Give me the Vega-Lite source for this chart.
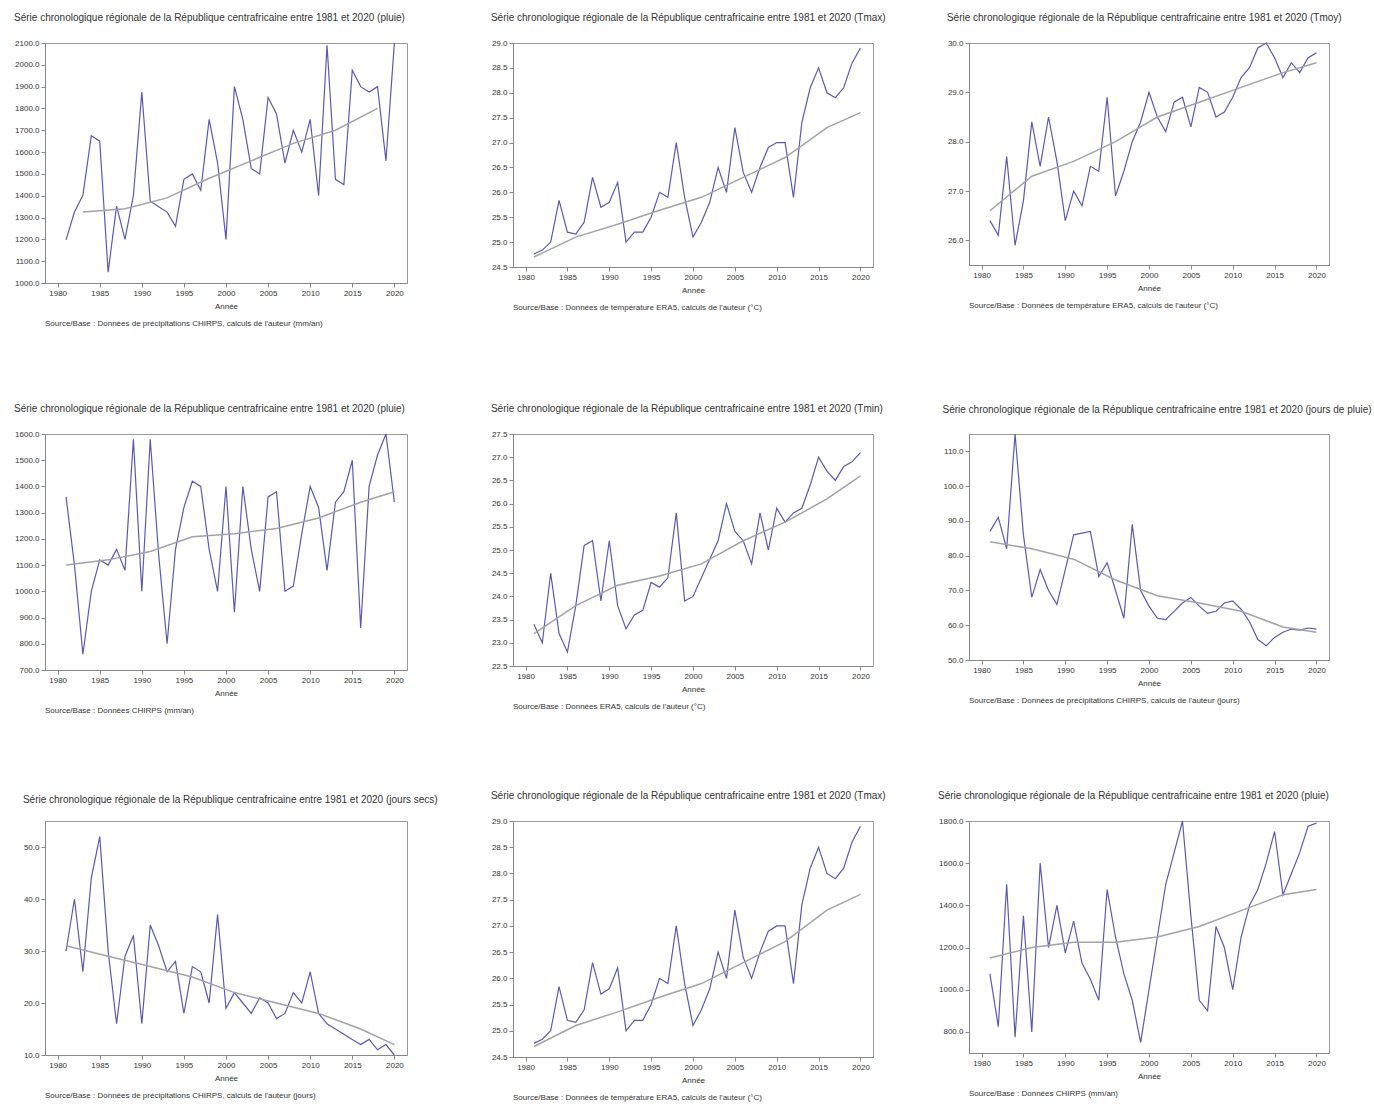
{
  "$schema": "https://vega.github.io/schema/vega-lite/v6.json",
  "padding": {"left": 14, "top": 12, "right": 4, "bottom": 4},
  "background": "white",
  "config": {
    "font": "Liberation Sans",
    "view": {"stroke": "#9a9a9a", "strokeWidth": 1},
    "axis": {"grid": false, "labelFontSize": 8, "titleFontSize": 8, "titleFontWeight": "normal", "domainColor": "#888", "tickColor": "#888", "labelColor": "#333", "titleColor": "#333", "tickSize": 4, "titlePadding": 5},
    "title": {"fontSize": 10, "fontWeight": "normal", "anchor": "start", "frame": "bounds", "color": "#333", "offset": 16},
    "concat": {"spacing": {"row": 74, "column": 52}}
  },
  "data": {"values": [
    {"r":"R1","a":1981,"v":1198,"s":"obs"},{"r":"R1","a":1982,"v":1325,"s":"obs"},{"r":"R1","a":1983,"v":1402,"s":"obs"},{"r":"R1","a":1984,"v":1675,"s":"obs"},{"r":"R1","a":1985,"v":1650,"s":"obs"},{"r":"R1","a":1986,"v":1050,"s":"obs"},{"r":"R1","a":1987,"v":1352,"s":"obs"},{"r":"R1","a":1988,"v":1200,"s":"obs"},{"r":"R1","a":1989,"v":1400,"s":"obs"},{"r":"R1","a":1990,"v":1875,"s":"obs"},
    {"r":"R1","a":1991,"v":1375,"s":"obs"},{"r":"R1","a":1992,"v":1350,"s":"obs"},{"r":"R1","a":1993,"v":1325,"s":"obs"},{"r":"R1","a":1994,"v":1260,"s":"obs"},{"r":"R1","a":1995,"v":1475,"s":"obs"},{"r":"R1","a":1996,"v":1500,"s":"obs"},{"r":"R1","a":1997,"v":1425,"s":"obs"},{"r":"R1","a":1998,"v":1750,"s":"obs"},{"r":"R1","a":1999,"v":1550,"s":"obs"},{"r":"R1","a":2000,"v":1200,"s":"obs"},
    {"r":"R1","a":2001,"v":1900,"s":"obs"},{"r":"R1","a":2002,"v":1750,"s":"obs"},{"r":"R1","a":2003,"v":1525,"s":"obs"},{"r":"R1","a":2004,"v":1500,"s":"obs"},{"r":"R1","a":2005,"v":1850,"s":"obs"},{"r":"R1","a":2006,"v":1775,"s":"obs"},{"r":"R1","a":2007,"v":1550,"s":"obs"},{"r":"R1","a":2008,"v":1700,"s":"obs"},{"r":"R1","a":2009,"v":1600,"s":"obs"},{"r":"R1","a":2010,"v":1750,"s":"obs"},
    {"r":"R1","a":2011,"v":1400,"s":"obs"},{"r":"R1","a":2012,"v":2090,"s":"obs"},{"r":"R1","a":2013,"v":1475,"s":"obs"},{"r":"R1","a":2014,"v":1450,"s":"obs"},{"r":"R1","a":2015,"v":1975,"s":"obs"},{"r":"R1","a":2016,"v":1900,"s":"obs"},{"r":"R1","a":2017,"v":1875,"s":"obs"},{"r":"R1","a":2018,"v":1900,"s":"obs"},{"r":"R1","a":2019,"v":1560,"s":"obs"},{"r":"R1","a":2020,"v":2100,"s":"obs"},
    {"r":"R1","a":1983,"v":1325,"s":"tend"},{"r":"R1","a":1988,"v":1340,"s":"tend"},{"r":"R1","a":1993,"v":1390,"s":"tend"},{"r":"R1","a":1998,"v":1480,"s":"tend"},{"r":"R1","a":2003,"v":1560,"s":"tend"},{"r":"R1","a":2008,"v":1640,"s":"tend"},{"r":"R1","a":2013,"v":1700,"s":"tend"},{"r":"R1","a":2018,"v":1800,"s":"tend"},

    {"r":"R2","a":1981,"v":24.76,"s":"obs"},{"r":"R2","a":1982,"v":24.84,"s":"obs"},{"r":"R2","a":1983,"v":25.0,"s":"obs"},{"r":"R2","a":1984,"v":25.84,"s":"obs"},{"r":"R2","a":1985,"v":25.2,"s":"obs"},{"r":"R2","a":1986,"v":25.16,"s":"obs"},{"r":"R2","a":1987,"v":25.4,"s":"obs"},{"r":"R2","a":1988,"v":26.3,"s":"obs"},{"r":"R2","a":1989,"v":25.7,"s":"obs"},{"r":"R2","a":1990,"v":25.8,"s":"obs"},
    {"r":"R2","a":1991,"v":26.2,"s":"obs"},{"r":"R2","a":1992,"v":25.0,"s":"obs"},{"r":"R2","a":1993,"v":25.2,"s":"obs"},{"r":"R2","a":1994,"v":25.2,"s":"obs"},{"r":"R2","a":1995,"v":25.5,"s":"obs"},{"r":"R2","a":1996,"v":26.0,"s":"obs"},{"r":"R2","a":1997,"v":25.9,"s":"obs"},{"r":"R2","a":1998,"v":27.0,"s":"obs"},{"r":"R2","a":1999,"v":25.9,"s":"obs"},{"r":"R2","a":2000,"v":25.1,"s":"obs"},
    {"r":"R2","a":2001,"v":25.4,"s":"obs"},{"r":"R2","a":2002,"v":25.8,"s":"obs"},{"r":"R2","a":2003,"v":26.5,"s":"obs"},{"r":"R2","a":2004,"v":26.0,"s":"obs"},{"r":"R2","a":2005,"v":27.3,"s":"obs"},{"r":"R2","a":2006,"v":26.4,"s":"obs"},{"r":"R2","a":2007,"v":26.0,"s":"obs"},{"r":"R2","a":2008,"v":26.5,"s":"obs"},{"r":"R2","a":2009,"v":26.9,"s":"obs"},{"r":"R2","a":2010,"v":27.0,"s":"obs"},
    {"r":"R2","a":2011,"v":27.0,"s":"obs"},{"r":"R2","a":2012,"v":25.9,"s":"obs"},{"r":"R2","a":2013,"v":27.4,"s":"obs"},{"r":"R2","a":2014,"v":28.1,"s":"obs"},{"r":"R2","a":2015,"v":28.5,"s":"obs"},{"r":"R2","a":2016,"v":28.0,"s":"obs"},{"r":"R2","a":2017,"v":27.9,"s":"obs"},{"r":"R2","a":2018,"v":28.1,"s":"obs"},{"r":"R2","a":2019,"v":28.6,"s":"obs"},{"r":"R2","a":2020,"v":28.9,"s":"obs"},
    {"r":"R2","a":1981,"v":24.7,"s":"tend"},{"r":"R2","a":1986,"v":25.1,"s":"tend"},{"r":"R2","a":1991,"v":25.36,"s":"tend"},{"r":"R2","a":1996,"v":25.64,"s":"tend"},{"r":"R2","a":2001,"v":25.9,"s":"tend"},{"r":"R2","a":2006,"v":26.3,"s":"tend"},{"r":"R2","a":2011,"v":26.7,"s":"tend"},{"r":"R2","a":2016,"v":27.3,"s":"tend"},{"r":"R2","a":2020,"v":27.6,"s":"tend"},

    {"r":"R3","a":1981,"v":26.4,"s":"obs"},{"r":"R3","a":1982,"v":26.1,"s":"obs"},{"r":"R3","a":1983,"v":27.7,"s":"obs"},{"r":"R3","a":1984,"v":25.9,"s":"obs"},{"r":"R3","a":1985,"v":26.8,"s":"obs"},{"r":"R3","a":1986,"v":28.4,"s":"obs"},{"r":"R3","a":1987,"v":27.5,"s":"obs"},{"r":"R3","a":1988,"v":28.5,"s":"obs"},{"r":"R3","a":1989,"v":27.6,"s":"obs"},{"r":"R3","a":1990,"v":26.4,"s":"obs"},
    {"r":"R3","a":1991,"v":27.0,"s":"obs"},{"r":"R3","a":1992,"v":26.7,"s":"obs"},{"r":"R3","a":1993,"v":27.5,"s":"obs"},{"r":"R3","a":1994,"v":27.4,"s":"obs"},{"r":"R3","a":1995,"v":28.9,"s":"obs"},{"r":"R3","a":1996,"v":26.9,"s":"obs"},{"r":"R3","a":1997,"v":27.4,"s":"obs"},{"r":"R3","a":1998,"v":28.0,"s":"obs"},{"r":"R3","a":1999,"v":28.4,"s":"obs"},{"r":"R3","a":2000,"v":29.0,"s":"obs"},
    {"r":"R3","a":2001,"v":28.5,"s":"obs"},{"r":"R3","a":2002,"v":28.2,"s":"obs"},{"r":"R3","a":2003,"v":28.8,"s":"obs"},{"r":"R3","a":2004,"v":28.9,"s":"obs"},{"r":"R3","a":2005,"v":28.3,"s":"obs"},{"r":"R3","a":2006,"v":29.1,"s":"obs"},{"r":"R3","a":2007,"v":29.0,"s":"obs"},{"r":"R3","a":2008,"v":28.5,"s":"obs"},{"r":"R3","a":2009,"v":28.6,"s":"obs"},{"r":"R3","a":2010,"v":28.9,"s":"obs"},
    {"r":"R3","a":2011,"v":29.3,"s":"obs"},{"r":"R3","a":2012,"v":29.5,"s":"obs"},{"r":"R3","a":2013,"v":29.9,"s":"obs"},{"r":"R3","a":2014,"v":30.0,"s":"obs"},{"r":"R3","a":2015,"v":29.7,"s":"obs"},{"r":"R3","a":2016,"v":29.3,"s":"obs"},{"r":"R3","a":2017,"v":29.6,"s":"obs"},{"r":"R3","a":2018,"v":29.4,"s":"obs"},{"r":"R3","a":2019,"v":29.7,"s":"obs"},{"r":"R3","a":2020,"v":29.8,"s":"obs"},
    {"r":"R3","a":1981,"v":26.6,"s":"tend"},{"r":"R3","a":1986,"v":27.3,"s":"tend"},{"r":"R3","a":1991,"v":27.6,"s":"tend"},{"r":"R3","a":1996,"v":28.0,"s":"tend"},{"r":"R3","a":2001,"v":28.5,"s":"tend"},{"r":"R3","a":2006,"v":28.8,"s":"tend"},{"r":"R3","a":2011,"v":29.1,"s":"tend"},{"r":"R3","a":2016,"v":29.4,"s":"tend"},{"r":"R3","a":2020,"v":29.6,"s":"tend"},

    {"r":"R4","a":1981,"v":1360,"s":"obs"},{"r":"R4","a":1982,"v":1100,"s":"obs"},{"r":"R4","a":1983,"v":760,"s":"obs"},{"r":"R4","a":1984,"v":1000,"s":"obs"},{"r":"R4","a":1985,"v":1120,"s":"obs"},{"r":"R4","a":1986,"v":1100,"s":"obs"},{"r":"R4","a":1987,"v":1160,"s":"obs"},{"r":"R4","a":1988,"v":1080,"s":"obs"},{"r":"R4","a":1989,"v":1580,"s":"obs"},{"r":"R4","a":1990,"v":1000,"s":"obs"},
    {"r":"R4","a":1991,"v":1580,"s":"obs"},{"r":"R4","a":1992,"v":1140,"s":"obs"},{"r":"R4","a":1993,"v":800,"s":"obs"},{"r":"R4","a":1994,"v":1160,"s":"obs"},{"r":"R4","a":1995,"v":1320,"s":"obs"},{"r":"R4","a":1996,"v":1420,"s":"obs"},{"r":"R4","a":1997,"v":1400,"s":"obs"},{"r":"R4","a":1998,"v":1160,"s":"obs"},{"r":"R4","a":1999,"v":1000,"s":"obs"},{"r":"R4","a":2000,"v":1400,"s":"obs"},
    {"r":"R4","a":2001,"v":920,"s":"obs"},{"r":"R4","a":2002,"v":1400,"s":"obs"},{"r":"R4","a":2003,"v":1160,"s":"obs"},{"r":"R4","a":2004,"v":1000,"s":"obs"},{"r":"R4","a":2005,"v":1360,"s":"obs"},{"r":"R4","a":2006,"v":1380,"s":"obs"},{"r":"R4","a":2007,"v":1000,"s":"obs"},{"r":"R4","a":2008,"v":1020,"s":"obs"},{"r":"R4","a":2009,"v":1220,"s":"obs"},{"r":"R4","a":2010,"v":1400,"s":"obs"},
    {"r":"R4","a":2011,"v":1320,"s":"obs"},{"r":"R4","a":2012,"v":1080,"s":"obs"},{"r":"R4","a":2013,"v":1340,"s":"obs"},{"r":"R4","a":2014,"v":1380,"s":"obs"},{"r":"R4","a":2015,"v":1500,"s":"obs"},{"r":"R4","a":2016,"v":860,"s":"obs"},{"r":"R4","a":2017,"v":1400,"s":"obs"},{"r":"R4","a":2018,"v":1520,"s":"obs"},{"r":"R4","a":2019,"v":1600,"s":"obs"},{"r":"R4","a":2020,"v":1340,"s":"obs"},
    {"r":"R4","a":1981,"v":1100,"s":"tend"},{"r":"R4","a":1986,"v":1120,"s":"tend"},{"r":"R4","a":1991,"v":1152,"s":"tend"},{"r":"R4","a":1996,"v":1208,"s":"tend"},{"r":"R4","a":2001,"v":1220,"s":"tend"},{"r":"R4","a":2006,"v":1240,"s":"tend"},{"r":"R4","a":2011,"v":1280,"s":"tend"},{"r":"R4","a":2016,"v":1340,"s":"tend"},{"r":"R4","a":2020,"v":1380,"s":"tend"},

    {"r":"R5","a":1981,"v":23.4,"s":"obs"},{"r":"R5","a":1982,"v":23.0,"s":"obs"},{"r":"R5","a":1983,"v":24.5,"s":"obs"},{"r":"R5","a":1984,"v":23.2,"s":"obs"},{"r":"R5","a":1985,"v":22.8,"s":"obs"},{"r":"R5","a":1986,"v":23.8,"s":"obs"},{"r":"R5","a":1987,"v":25.1,"s":"obs"},{"r":"R5","a":1988,"v":25.2,"s":"obs"},{"r":"R5","a":1989,"v":23.9,"s":"obs"},{"r":"R5","a":1990,"v":25.2,"s":"obs"},
    {"r":"R5","a":1991,"v":23.8,"s":"obs"},{"r":"R5","a":1992,"v":23.3,"s":"obs"},{"r":"R5","a":1993,"v":23.6,"s":"obs"},{"r":"R5","a":1994,"v":23.7,"s":"obs"},{"r":"R5","a":1995,"v":24.3,"s":"obs"},{"r":"R5","a":1996,"v":24.2,"s":"obs"},{"r":"R5","a":1997,"v":24.4,"s":"obs"},{"r":"R5","a":1998,"v":25.8,"s":"obs"},{"r":"R5","a":1999,"v":23.9,"s":"obs"},{"r":"R5","a":2000,"v":24.0,"s":"obs"},
    {"r":"R5","a":2001,"v":24.4,"s":"obs"},{"r":"R5","a":2002,"v":24.8,"s":"obs"},{"r":"R5","a":2003,"v":25.2,"s":"obs"},{"r":"R5","a":2004,"v":26.0,"s":"obs"},{"r":"R5","a":2005,"v":25.4,"s":"obs"},{"r":"R5","a":2006,"v":25.2,"s":"obs"},{"r":"R5","a":2007,"v":24.7,"s":"obs"},{"r":"R5","a":2008,"v":25.8,"s":"obs"},{"r":"R5","a":2009,"v":25.0,"s":"obs"},{"r":"R5","a":2010,"v":25.9,"s":"obs"},
    {"r":"R5","a":2011,"v":25.6,"s":"obs"},{"r":"R5","a":2012,"v":25.8,"s":"obs"},{"r":"R5","a":2013,"v":25.9,"s":"obs"},{"r":"R5","a":2014,"v":26.4,"s":"obs"},{"r":"R5","a":2015,"v":27.0,"s":"obs"},{"r":"R5","a":2016,"v":26.7,"s":"obs"},{"r":"R5","a":2017,"v":26.5,"s":"obs"},{"r":"R5","a":2018,"v":26.8,"s":"obs"},{"r":"R5","a":2019,"v":26.9,"s":"obs"},{"r":"R5","a":2020,"v":27.1,"s":"obs"},
    {"r":"R5","a":1981,"v":23.2,"s":"tend"},{"r":"R5","a":1986,"v":23.8,"s":"tend"},{"r":"R5","a":1991,"v":24.24,"s":"tend"},{"r":"R5","a":1996,"v":24.44,"s":"tend"},{"r":"R5","a":2001,"v":24.7,"s":"tend"},{"r":"R5","a":2006,"v":25.2,"s":"tend"},{"r":"R5","a":2011,"v":25.6,"s":"tend"},{"r":"R5","a":2016,"v":26.1,"s":"tend"},{"r":"R5","a":2020,"v":26.6,"s":"tend"},

    {"r":"R6","a":1981,"v":87.0,"s":"obs"},{"r":"R6","a":1982,"v":91.0,"s":"obs"},{"r":"R6","a":1983,"v":82.0,"s":"obs"},{"r":"R6","a":1984,"v":115.0,"s":"obs"},{"r":"R6","a":1985,"v":86.0,"s":"obs"},{"r":"R6","a":1986,"v":68.0,"s":"obs"},{"r":"R6","a":1987,"v":76.0,"s":"obs"},{"r":"R6","a":1988,"v":70.0,"s":"obs"},{"r":"R6","a":1989,"v":66.0,"s":"obs"},{"r":"R6","a":1990,"v":76.0,"s":"obs"},
    {"r":"R6","a":1991,"v":86.0,"s":"obs"},{"r":"R6","a":1992,"v":86.5,"s":"obs"},{"r":"R6","a":1993,"v":87.0,"s":"obs"},{"r":"R6","a":1994,"v":74.0,"s":"obs"},{"r":"R6","a":1995,"v":78.0,"s":"obs"},{"r":"R6","a":1996,"v":70.0,"s":"obs"},{"r":"R6","a":1997,"v":62.0,"s":"obs"},{"r":"R6","a":1998,"v":89.0,"s":"obs"},{"r":"R6","a":1999,"v":70.0,"s":"obs"},{"r":"R6","a":2000,"v":65.5,"s":"obs"},
    {"r":"R6","a":2001,"v":62.0,"s":"obs"},{"r":"R6","a":2002,"v":61.6,"s":"obs"},{"r":"R6","a":2003,"v":64.0,"s":"obs"},{"r":"R6","a":2004,"v":66.4,"s":"obs"},{"r":"R6","a":2005,"v":68.0,"s":"obs"},{"r":"R6","a":2006,"v":65.5,"s":"obs"},{"r":"R6","a":2007,"v":63.4,"s":"obs"},{"r":"R6","a":2008,"v":64.0,"s":"obs"},{"r":"R6","a":2009,"v":66.4,"s":"obs"},{"r":"R6","a":2010,"v":67.0,"s":"obs"},
    {"r":"R6","a":2011,"v":64.6,"s":"obs"},{"r":"R6","a":2012,"v":61.0,"s":"obs"},{"r":"R6","a":2013,"v":55.9,"s":"obs"},{"r":"R6","a":2014,"v":54.1,"s":"obs"},{"r":"R6","a":2015,"v":56.5,"s":"obs"},{"r":"R6","a":2016,"v":58.0,"s":"obs"},{"r":"R6","a":2017,"v":58.9,"s":"obs"},{"r":"R6","a":2018,"v":58.6,"s":"obs"},{"r":"R6","a":2019,"v":59.2,"s":"obs"},{"r":"R6","a":2020,"v":58.9,"s":"obs"},
    {"r":"R6","a":1981,"v":84.0,"s":"tend"},{"r":"R6","a":1986,"v":82.0,"s":"tend"},{"r":"R6","a":1991,"v":79.0,"s":"tend"},{"r":"R6","a":1996,"v":73.0,"s":"tend"},{"r":"R6","a":2001,"v":68.5,"s":"tend"},{"r":"R6","a":2006,"v":66.4,"s":"tend"},{"r":"R6","a":2011,"v":64.0,"s":"tend"},{"r":"R6","a":2016,"v":59.5,"s":"tend"},{"r":"R6","a":2020,"v":58.0,"s":"tend"},

    {"r":"R7","a":1981,"v":30,"s":"obs"},{"r":"R7","a":1982,"v":40,"s":"obs"},{"r":"R7","a":1983,"v":26,"s":"obs"},{"r":"R7","a":1984,"v":44,"s":"obs"},{"r":"R7","a":1985,"v":52,"s":"obs"},{"r":"R7","a":1986,"v":30,"s":"obs"},{"r":"R7","a":1987,"v":16,"s":"obs"},{"r":"R7","a":1988,"v":29,"s":"obs"},{"r":"R7","a":1989,"v":33,"s":"obs"},{"r":"R7","a":1990,"v":16,"s":"obs"},
    {"r":"R7","a":1991,"v":35,"s":"obs"},{"r":"R7","a":1992,"v":31,"s":"obs"},{"r":"R7","a":1993,"v":26,"s":"obs"},{"r":"R7","a":1994,"v":28,"s":"obs"},{"r":"R7","a":1995,"v":18,"s":"obs"},{"r":"R7","a":1996,"v":27,"s":"obs"},{"r":"R7","a":1997,"v":26,"s":"obs"},{"r":"R7","a":1998,"v":20,"s":"obs"},{"r":"R7","a":1999,"v":37,"s":"obs"},{"r":"R7","a":2000,"v":19,"s":"obs"},
    {"r":"R7","a":2001,"v":22,"s":"obs"},{"r":"R7","a":2002,"v":20,"s":"obs"},{"r":"R7","a":2003,"v":18,"s":"obs"},{"r":"R7","a":2004,"v":21,"s":"obs"},{"r":"R7","a":2005,"v":20,"s":"obs"},{"r":"R7","a":2006,"v":17,"s":"obs"},{"r":"R7","a":2007,"v":18,"s":"obs"},{"r":"R7","a":2008,"v":22,"s":"obs"},{"r":"R7","a":2009,"v":20,"s":"obs"},{"r":"R7","a":2010,"v":26,"s":"obs"},
    {"r":"R7","a":2011,"v":18,"s":"obs"},{"r":"R7","a":2012,"v":16,"s":"obs"},{"r":"R7","a":2013,"v":15,"s":"obs"},{"r":"R7","a":2014,"v":14,"s":"obs"},{"r":"R7","a":2015,"v":13,"s":"obs"},{"r":"R7","a":2016,"v":12,"s":"obs"},{"r":"R7","a":2017,"v":13,"s":"obs"},{"r":"R7","a":2018,"v":11,"s":"obs"},{"r":"R7","a":2019,"v":12,"s":"obs"},{"r":"R7","a":2020,"v":10,"s":"obs"},
    {"r":"R7","a":1981,"v":31,"s":"tend"},{"r":"R7","a":1986,"v":29,"s":"tend"},{"r":"R7","a":1991,"v":27,"s":"tend"},{"r":"R7","a":1996,"v":25,"s":"tend"},{"r":"R7","a":2001,"v":22,"s":"tend"},{"r":"R7","a":2006,"v":20,"s":"tend"},{"r":"R7","a":2011,"v":18,"s":"tend"},{"r":"R7","a":2016,"v":15,"s":"tend"},{"r":"R7","a":2020,"v":12,"s":"tend"},

    {"r":"R9","a":1981,"v":1075,"s":"obs"},{"r":"R9","a":1982,"v":825,"s":"obs"},{"r":"R9","a":1983,"v":1500,"s":"obs"},{"r":"R9","a":1984,"v":775,"s":"obs"},{"r":"R9","a":1985,"v":1350,"s":"obs"},{"r":"R9","a":1986,"v":800,"s":"obs"},{"r":"R9","a":1987,"v":1600,"s":"obs"},{"r":"R9","a":1988,"v":1200,"s":"obs"},{"r":"R9","a":1989,"v":1400,"s":"obs"},{"r":"R9","a":1990,"v":1175,"s":"obs"},
    {"r":"R9","a":1991,"v":1325,"s":"obs"},{"r":"R9","a":1992,"v":1125,"s":"obs"},{"r":"R9","a":1993,"v":1050,"s":"obs"},{"r":"R9","a":1994,"v":950,"s":"obs"},{"r":"R9","a":1995,"v":1475,"s":"obs"},{"r":"R9","a":1996,"v":1250,"s":"obs"},{"r":"R9","a":1997,"v":1075,"s":"obs"},{"r":"R9","a":1998,"v":950,"s":"obs"},{"r":"R9","a":1999,"v":750,"s":"obs"},{"r":"R9","a":2000,"v":1000,"s":"obs"},
    {"r":"R9","a":2001,"v":1250,"s":"obs"},{"r":"R9","a":2002,"v":1500,"s":"obs"},{"r":"R9","a":2003,"v":1650,"s":"obs"},{"r":"R9","a":2004,"v":1800,"s":"obs"},{"r":"R9","a":2005,"v":1350,"s":"obs"},{"r":"R9","a":2006,"v":950,"s":"obs"},{"r":"R9","a":2007,"v":900,"s":"obs"},{"r":"R9","a":2008,"v":1300,"s":"obs"},{"r":"R9","a":2009,"v":1200,"s":"obs"},{"r":"R9","a":2010,"v":1000,"s":"obs"},
    {"r":"R9","a":2011,"v":1250,"s":"obs"},{"r":"R9","a":2012,"v":1400,"s":"obs"},{"r":"R9","a":2013,"v":1475,"s":"obs"},{"r":"R9","a":2014,"v":1600,"s":"obs"},{"r":"R9","a":2015,"v":1750,"s":"obs"},{"r":"R9","a":2016,"v":1450,"s":"obs"},{"r":"R9","a":2017,"v":1550,"s":"obs"},{"r":"R9","a":2018,"v":1650,"s":"obs"},{"r":"R9","a":2019,"v":1775,"s":"obs"},{"r":"R9","a":2020,"v":1790,"s":"obs"},
    {"r":"R9","a":1981,"v":1150,"s":"tend"},{"r":"R9","a":1986,"v":1200,"s":"tend"},{"r":"R9","a":1991,"v":1225,"s":"tend"},{"r":"R9","a":1996,"v":1225,"s":"tend"},{"r":"R9","a":2001,"v":1250,"s":"tend"},{"r":"R9","a":2006,"v":1300,"s":"tend"},{"r":"R9","a":2011,"v":1375,"s":"tend"},{"r":"R9","a":2016,"v":1450,"s":"tend"},{"r":"R9","a":2020,"v":1475,"s":"tend"}
  ]},
  "columns": 3,
  "concat": [
    {"title": {"text": "Série chronologique régionale de la République centrafricaine entre 1981 et 2020 (pluie)", "limit": 440},
     "vconcat": [{"title": {"text": "Source/Base : Données de précipitations CHIRPS, calculs de l'auteur (mm/an)", "orient": "bottom", "anchor": "start", "frame": "group", "fontSize": 8, "offset": 10},
       "width": 362, "height": 240, "transform": [{"filter": "datum.r === 'R1'"}],
       "encoding": {"x": {"field": "a", "type": "quantitative", "title": "Année", "scale": {"domain": [1978.5, 2021.5], "nice": false}, "axis": {"values": [1980,1985,1990,1995,2000,2005,2010,2015,2020], "format": "d"}},
                    "y": {"field": "v", "type": "quantitative", "title": null, "scale": {"zero": false}, "axis": {"format": ".1f", "tickCount": 9}}},
       "layer": [{"transform": [{"filter": "datum.s === 'obs'"}], "mark": {"type": "line", "color": "#5a5ab4", "strokeWidth": 1.2}},
                 {"transform": [{"filter": "datum.s === 'tend'"}], "mark": {"type": "line", "color": "#a2a2a8", "strokeWidth": 1.5}}]}]},
    {"title": {"text": "Série chronologique régionale de la République centrafricaine entre 1981 et 2020 (Tmax)", "limit": 440},
     "vconcat": [{"title": {"text": "Source/Base : Données de température ERA5, calculs de l'auteur (°C)", "orient": "bottom", "anchor": "start", "frame": "group", "fontSize": 8, "offset": 10},
       "width": 360, "height": 224, "transform": [{"filter": "datum.r === 'R2'"}],
       "encoding": {"x": {"field": "a", "type": "quantitative", "title": "Année", "scale": {"domain": [1978.5, 2021.5], "nice": false}, "axis": {"values": [1980,1985,1990,1995,2000,2005,2010,2015,2020], "format": "d"}},
                    "y": {"field": "v", "type": "quantitative", "title": null, "scale": {"zero": false}, "axis": {"format": ".1f", "tickCount": 9}}},
       "layer": [{"transform": [{"filter": "datum.s === 'obs'"}], "mark": {"type": "line", "color": "#5a5ab4", "strokeWidth": 1.2}},
                 {"transform": [{"filter": "datum.s === 'tend'"}], "mark": {"type": "line", "color": "#a2a2a8", "strokeWidth": 1.5}}]}]},
    {"title": {"text": "Série chronologique régionale de la République centrafricaine entre 1981 et 2020 (Tmoy)", "limit": 440},
     "vconcat": [{"title": {"text": "Source/Base : Données de température ERA5, calculs de l'auteur (°C)", "orient": "bottom", "anchor": "start", "frame": "group", "fontSize": 8, "offset": 10},
       "width": 360, "height": 222, "transform": [{"filter": "datum.r === 'R3'"}],
       "encoding": {"x": {"field": "a", "type": "quantitative", "title": "Année", "scale": {"domain": [1978.5, 2021.5], "nice": false}, "axis": {"values": [1980,1985,1990,1995,2000,2005,2010,2015,2020], "format": "d"}},
                    "y": {"field": "v", "type": "quantitative", "title": null, "scale": {"zero": false}, "axis": {"format": ".1f", "tickCount": 5}}},
       "layer": [{"transform": [{"filter": "datum.s === 'obs'"}], "mark": {"type": "line", "color": "#5a5ab4", "strokeWidth": 1.2}},
                 {"transform": [{"filter": "datum.s === 'tend'"}], "mark": {"type": "line", "color": "#a2a2a8", "strokeWidth": 1.5}}]}]},
    {"title": {"text": "Série chronologique régionale de la République centrafricaine entre 1981 et 2020 (pluie)", "limit": 440},
     "vconcat": [{"title": {"text": "Source/Base : Données CHIRPS (mm/an)", "orient": "bottom", "anchor": "start", "frame": "group", "fontSize": 8, "offset": 10},
       "width": 362, "height": 236, "transform": [{"filter": "datum.r === 'R4'"}],
       "encoding": {"x": {"field": "a", "type": "quantitative", "title": "Année", "scale": {"domain": [1978.5, 2021.5], "nice": false}, "axis": {"values": [1980,1985,1990,1995,2000,2005,2010,2015,2020], "format": "d"}},
                    "y": {"field": "v", "type": "quantitative", "title": null, "scale": {"zero": false}, "axis": {"format": ".1f", "tickCount": 7}}},
       "layer": [{"transform": [{"filter": "datum.s === 'obs'"}], "mark": {"type": "line", "color": "#5a5ab4", "strokeWidth": 1.2}},
                 {"transform": [{"filter": "datum.s === 'tend'"}], "mark": {"type": "line", "color": "#a2a2a8", "strokeWidth": 1.5}}]}]},
    {"title": {"text": "Série chronologique régionale de la République centrafricaine entre 1981 et 2020 (Tmin)", "limit": 440},
     "vconcat": [{"title": {"text": "Source/Base : Données ERA5, calculs de l'auteur (°C)", "orient": "bottom", "anchor": "start", "frame": "group", "fontSize": 8, "offset": 10},
       "width": 360, "height": 232, "transform": [{"filter": "datum.r === 'R5'"}],
       "encoding": {"x": {"field": "a", "type": "quantitative", "title": "Année", "scale": {"domain": [1978.5, 2021.5], "nice": false}, "axis": {"values": [1980,1985,1990,1995,2000,2005,2010,2015,2020], "format": "d"}},
                    "y": {"field": "v", "type": "quantitative", "title": null, "scale": {"zero": false}, "axis": {"format": ".1f", "tickCount": 8}}},
       "layer": [{"transform": [{"filter": "datum.s === 'obs'"}], "mark": {"type": "line", "color": "#5a5ab4", "strokeWidth": 1.2}},
                 {"transform": [{"filter": "datum.s === 'tend'"}], "mark": {"type": "line", "color": "#a2a2a8", "strokeWidth": 1.5}}]}]},
    {"title": {"text": "Série chronologique régionale de la République centrafricaine entre 1981 et 2020 (jours de pluie)", "limit": 440},
     "vconcat": [{"title": {"text": "Source/Base : Données de précipitations CHIRPS, calculs de l'auteur (jours)", "orient": "bottom", "anchor": "start", "frame": "group", "fontSize": 8, "offset": 10},
       "width": 360, "height": 226, "transform": [{"filter": "datum.r === 'R6'"}],
       "encoding": {"x": {"field": "a", "type": "quantitative", "title": "Année", "scale": {"domain": [1978.5, 2021.5], "nice": false}, "axis": {"values": [1980,1985,1990,1995,2000,2005,2010,2015,2020], "format": "d"}},
                    "y": {"field": "v", "type": "quantitative", "title": null, "scale": {"zero": false}, "axis": {"format": ".1f", "tickCount": 8}}},
       "layer": [{"transform": [{"filter": "datum.s === 'obs'"}], "mark": {"type": "line", "color": "#5a5ab4", "strokeWidth": 1.2}},
                 {"transform": [{"filter": "datum.s === 'tend'"}], "mark": {"type": "line", "color": "#a2a2a8", "strokeWidth": 1.5}}]}]},
    {"title": {"text": "Série chronologique régionale de la République centrafricaine entre 1981 et 2020 (jours secs)", "limit": 440},
     "vconcat": [{"title": {"text": "Source/Base : Données de précipitations CHIRPS, calculs de l'auteur (jours)", "orient": "bottom", "anchor": "start", "frame": "group", "fontSize": 8, "offset": 10},
       "width": 362, "height": 234, "transform": [{"filter": "datum.r === 'R7'"}],
       "encoding": {"x": {"field": "a", "type": "quantitative", "title": "Année", "scale": {"domain": [1978.5, 2021.5], "nice": false}, "axis": {"values": [1980,1985,1990,1995,2000,2005,2010,2015,2020], "format": "d"}},
                    "y": {"field": "v", "type": "quantitative", "title": null, "scale": {"zero": false}, "axis": {"format": ".1f", "tickCount": 5}}},
       "layer": [{"transform": [{"filter": "datum.s === 'obs'"}], "mark": {"type": "line", "color": "#5a5ab4", "strokeWidth": 1.2}},
                 {"transform": [{"filter": "datum.s === 'tend'"}], "mark": {"type": "line", "color": "#a2a2a8", "strokeWidth": 1.5}}]}]},
    {"title": {"text": "Série chronologique régionale de la République centrafricaine entre 1981 et 2020 (Tmax)", "limit": 440},
     "vconcat": [{"title": {"text": "Source/Base : Données de température ERA5, calculs de l'auteur (°C)", "orient": "bottom", "anchor": "start", "frame": "group", "fontSize": 8, "offset": 10},
       "width": 360, "height": 236, "transform": [{"filter": "datum.r === 'R2'"}],
       "encoding": {"x": {"field": "a", "type": "quantitative", "title": "Année", "scale": {"domain": [1978.5, 2021.5], "nice": false}, "axis": {"values": [1980,1985,1990,1995,2000,2005,2010,2015,2020], "format": "d"}},
                    "y": {"field": "v", "type": "quantitative", "title": null, "scale": {"zero": false}, "axis": {"format": ".1f", "tickCount": 9}}},
       "layer": [{"transform": [{"filter": "datum.s === 'obs'"}], "mark": {"type": "line", "color": "#5a5ab4", "strokeWidth": 1.2}},
                 {"transform": [{"filter": "datum.s === 'tend'"}], "mark": {"type": "line", "color": "#a2a2a8", "strokeWidth": 1.5}}]}]},
    {"title": {"text": "Série chronologique régionale de la République centrafricaine entre 1981 et 2020 (pluie)", "limit": 440},
     "vconcat": [{"title": {"text": "Source/Base : Données CHIRPS (mm/an)", "orient": "bottom", "anchor": "start", "frame": "group", "fontSize": 8, "offset": 10},
       "width": 360, "height": 232, "transform": [{"filter": "datum.r === 'R9'"}],
       "encoding": {"x": {"field": "a", "type": "quantitative", "title": "Année", "scale": {"domain": [1978.5, 2021.5], "nice": false}, "axis": {"values": [1980,1985,1990,1995,2000,2005,2010,2015,2020], "format": "d"}},
                    "y": {"field": "v", "type": "quantitative", "title": null, "scale": {"zero": false}, "axis": {"format": ".1f", "tickCount": 6}}},
       "layer": [{"transform": [{"filter": "datum.s === 'obs'"}], "mark": {"type": "line", "color": "#5a5ab4", "strokeWidth": 1.2}},
                 {"transform": [{"filter": "datum.s === 'tend'"}], "mark": {"type": "line", "color": "#a2a2a8", "strokeWidth": 1.5}}]}]}
  ]
}
